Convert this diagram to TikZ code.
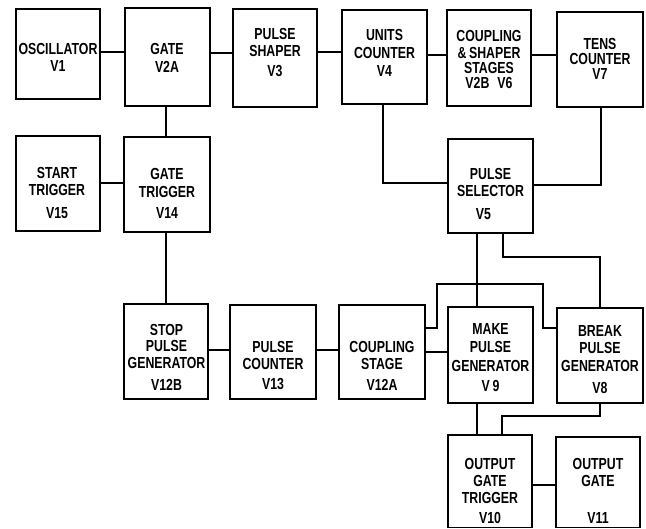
\documentclass[tikz,border=0pt]{standalone}
\usepackage{fontspec}
\newfontfamily\lbl{Liberation Sans}[FakeStretch=0.77]
\tikzset{
  box/.style={draw, line width=1.4pt, inner sep=0pt},
  txt/.style={inner sep=0pt, align=center, font=\lbl\bfseries\fontsize{16}{17}\selectfont},
  wire/.style={line width=1.25pt, line join=miter}
}
\begin{document}
\begin{tikzpicture}[x=1pt,y=-1pt]
\useasboundingbox (0,0) rectangle (646,529);
% boxes
\node[box, minimum width=84pt, minimum height=90pt] (osc) at (58,54) {};
\node[box, minimum width=85pt, minimum height=98pt] (gate) at (167.5,57) {};
\node[box, minimum width=84pt, minimum height=98pt] (shaper) at (275,58) {};
\node[box, minimum width=85pt, minimum height=94pt] (units) at (384.5,57) {};
\node[box, minimum width=84pt, minimum height=96pt] (coup) at (489,58) {};
\node[box, minimum width=86pt, minimum height=95pt] (tens) at (600,59.5) {};
\node[box, minimum width=84pt, minimum height=95pt] (start) at (58,183.5) {};
\node[box, minimum width=86pt, minimum height=95pt] (gtrig) at (167,184.5) {};
\node[box, minimum width=85pt, minimum height=94pt] (sel) at (490.5,186) {};
\node[box, minimum width=84pt, minimum height=95pt] (stop) at (166,351.5) {};
\node[box, minimum width=86pt, minimum height=94pt] (pcount) at (273,352) {};
\node[box, minimum width=86pt, minimum height=94pt] (cstage) at (382,352) {};
\node[box, minimum width=85pt, minimum height=96pt] (make) at (490.5,355) {};
\node[box, minimum width=86pt, minimum height=95pt] (brk) at (600,355.5) {};
\node[box, minimum width=84pt, minimum height=92.5pt] (ogt) at (490,481.25) {};
\node[box, minimum width=84pt, minimum height=90.5pt] (og) at (598,482.25) {};
% texts
\node[txt] (oscT) at (58,57) {OSCILLATOR\\V1};
\node[txt] (gateT) at (167,58) {GATE\\[1.5pt]V2A};
\node[txt] (shaperT) at (275,52.5) {PULSE\\SHAPER\\[3pt]V3};
\node[txt] (unitsT) at (384.5,52.5) {UNITS\\[1pt]COUNTER\\[1pt]V4};
\node[txt] (coupT) at (489,59) {COUPLING\\\&\,SHAPER\\[-2pt]STAGES\\[-2pt]V2B\enspace V6};
\node[txt] (tensT) at (600,59.2) {TENS\\[-2pt]COUNTER\\[-2pt]V7};
\node[txt] (startT) at (57,193) {START\\TRIGGER\\[6pt]V15};
\node[txt] (gtrigT) at (167,193.8) {GATE\\[1pt]TRIGGER\\[4pt]V14};
\node[txt] (selT) at (490.5,193.8) {PULSE\\SELECTOR\\[5.5pt]V5\hspace*{14pt}};
\node[txt] (stopT) at (166.5,357.5) {STOP\\[-1.3pt]PULSE\\GENERATOR\\[4.7pt]V12B};
\node[txt] (pcountT) at (273,365.8) {PULSE\\COUNTER\\[3pt]V13};
\node[txt] (cstageT) at (382,365.8) {COUPLING\\STAGE\\[4.7pt]V12A};
\node[txt] (makeT) at (490.5,357.5) {MAKE\\[1.3pt]PULSE\\[1.4pt]GENERATOR\\[3pt]V\,9};
\node[txt] (brkT) at (600,359.2) {BREAK\\PULSE\\[1.4pt]GENERATOR\\[4.6pt]V8};
\node[txt] (ogtT) at (490,490.8) {OUTPUT\\GATE\\TRIGGER\\[3pt]V10};
\node[txt] (ogT) at (598,490.8) {OUTPUT\\GATE\\[19.6pt]V11};
% helper points
\coordinate (k1) at (503,257);
\coordinate (j1) at (437,284);
\coordinate (j2) at (543,328);
\coordinate (k2) at (502,416);
% connectors
\draw[wire] (osc.east |- 0,52) -- (gate.west |- 0,52);
\draw[wire] (gate.east |- 0,53) -- (shaper.west |- 0,53);
\draw[wire] (shaper.east |- 0,52) -- (units.west |- 0,52);
\draw[wire] (units.east |- 0,55) -- (coup.west |- 0,55);
\draw[wire] (coup.east |- 0,55) -- (tens.west |- 0,55);
\draw[wire] (gate.south -| 166,0) -- (gtrig.north -| 166,0);
\draw[wire] (start.east |- 0,183) -- (gtrig.west |- 0,183);
\draw[wire] (gtrig.south -| 166,0) -- (stop.north -| 166,0);
\draw[wire] (stop.east |- 0,350) -- (pcount.west |- 0,350);
\draw[wire] (pcount.east |- 0,350) -- (cstage.west |- 0,350);
\draw[wire] (units.south -| 383,0) |- (sel.west |- 0,183);
\draw[wire] (tens.south -| 601,0) |- (sel.east |- 0,185);
\draw[wire] (sel.south -| 477,0) -- (make.north -| 477,0);
\draw[wire] (sel.south -| 503,0) -- (k1) -| (brk.north -| 600,0);
\draw[wire] (cstage.east |- 0,352) -- (make.west |- 0,352);
\draw[wire] (cstage.east |- 0,328) -| (j1) -| (j2) -- (brk.west |- 0,328);
\draw[wire] (make.south -| 477,0) -- (ogt.north -| 477,0);
\draw[wire] (brk.south -| 600,0) |- (k2) -- (ogt.north -| 502,0);
\draw[wire] (ogt.east |- 0,485) -- (og.west |- 0,485);
\end{tikzpicture}
\end{document}
